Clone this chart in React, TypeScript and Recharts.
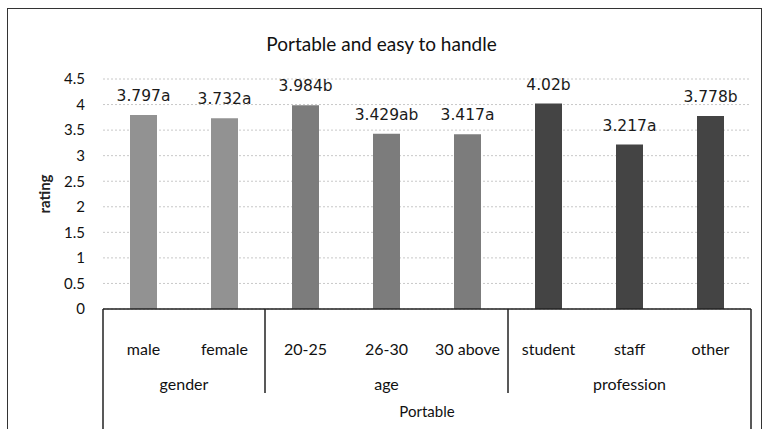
import React from 'react';
import { BarChart, Bar, XAxis, YAxis, CartesianGrid, Cell, LabelList } from 'recharts';

const categories = ['male', 'female', '20-25', '26-30', '30 above', 'student', 'staff', 'other'];
const ratings = [3.797, 3.732, 3.984, 3.429, 3.417, 4.02, 3.217, 3.778];
const letters = ['a', 'a', 'b', 'ab', 'a', 'b', 'a', 'b'];
const groupOf = ['gender', 'gender', 'age', 'age', 'age', 'profession', 'profession', 'profession'];
const groupNames = ['gender', 'age', 'profession'];
const groupColors = ['#929292', '#7c7c7c', '#444444'];
const yTicks = [0, 0.5, 1, 1.5, 2, 2.5, 3, 3.5, 4, 4.5];
const outerLabel = 'Portable';

const W = 763;
const H = 429;
const MARGIN = { top: 79, right: 12, bottom: 0, left: 0 };
const Y_AXIS_W = 103;
const X_AXIS_H = 120;
const BAND = (W - MARGIN.left - MARGIN.right - Y_AXIS_W) / categories.length;

const calibri = 'Lato, "Open Sans", sans-serif';
const arial = '"DejaVu Sans", "Liberation Sans", sans-serif';

const data = categories.map((name, i) => ({
  name,
  rating: ratings[i],
  group: groupOf[i],
  label: `${ratings[i]}${letters[i]}`,
}));

const CategoryTick = (props: any) => {
  const { x, y, payload, index } = props;
  const group = groupOf[index];
  const firstInGroup = index === 0 || groupOf[index - 1] !== group;
  const last = index === categories.length - 1;
  const groupSize = groupOf.filter((g) => g === group).length;
  const left = x - BAND / 2;
  return (
    <g>
      <text x={x} y={y + 46} textAnchor="middle" fontFamily={calibri} fontSize={16} fill="#111">
        {payload.value}
      </text>
      {firstInGroup && (
        <>
          <line x1={left} y1={y} x2={left} y2={y + (index === 0 ? X_AXIS_H : 84)} stroke="#222" strokeWidth={1.5} />
          <text x={left + (groupSize * BAND) / 2} y={y + 81} textAnchor="middle" fontFamily={calibri} fontSize={16} fill="#111">
            {group}
          </text>
        </>
      )}
      {index === 0 && (
        <text x={left + (categories.length * BAND) / 2} y={y + 108} textAnchor="middle" fontFamily={calibri} fontSize={15} fill="#111">
          {outerLabel}
        </text>
      )}
      {last && <line x1={x + BAND / 2} y1={y} x2={x + BAND / 2} y2={y + X_AXIS_H} stroke="#222" strokeWidth={1.5} />}
    </g>
  );
};

const RatingTitle = (props: any) => {
  const { viewBox } = props;
  const cx = viewBox.x + 46;
  const cy = viewBox.y + viewBox.height / 2;
  return (
    <text
      x={cx}
      y={cy}
      transform={`rotate(-90 ${cx} ${cy})`}
      textAnchor="middle"
      dominantBaseline="middle"
      fontFamily={calibri}
      fontWeight="bold"
      fontSize={15}
      fill="#222"
    >
      rating
    </text>
  );
};

export default function App() {
  return (
    <div style={{ position: 'absolute', left: 0, top: 0, width: W, height: H, overflow: 'hidden', background: '#fff' }}>
      <div
        style={{
          position: 'absolute',
          left: 7,
          top: 8,
          width: 753,
          height: H,
          borderTop: '1.5px solid #333',
          borderLeft: '1.5px solid #333',
          borderRight: '1.5px solid #333',
        }}
      />
      <div
        style={{
          position: 'absolute',
          left: 0,
          top: 32,
          width: W,
          textAlign: 'center',
          fontFamily: calibri,
          fontSize: 19,
          color: '#111',
        }}
      >
        Portable and easy to handle
      </div>
      <BarChart width={W} height={H} data={data} margin={MARGIN}>
        <CartesianGrid vertical={false} stroke="#c8c8c8" strokeDasharray="2 2" />
        <XAxis
          dataKey="name"
          interval={0}
          height={X_AXIS_H}
          tickLine={false}
          tickSize={0}
          tickMargin={0}
          axisLine={{ stroke: '#222', strokeWidth: 1.5 }}
          tick={<CategoryTick />}
        />
        <YAxis
          domain={[0, 4.5]}
          ticks={yTicks}
          width={Y_AXIS_W}
          axisLine={false}
          tickLine={false}
          tickSize={0}
          tickMargin={18}
          tick={{ fontFamily: calibri, fontSize: 15, fill: '#111' }}
          label={<RatingTitle />}
        />
        <Bar dataKey="rating" barSize={27} isAnimationActive={false}>
          {data.map((d, i) => (
            <Cell key={`cell-${i}`} fill={groupColors[groupNames.indexOf(d.group)]} />
          ))}
          <LabelList dataKey="label" position="top" offset={14} fontFamily={arial} fontSize={15.5} fill="#1a1a1a" />
        </Bar>
      </BarChart>
    </div>
  );
}
